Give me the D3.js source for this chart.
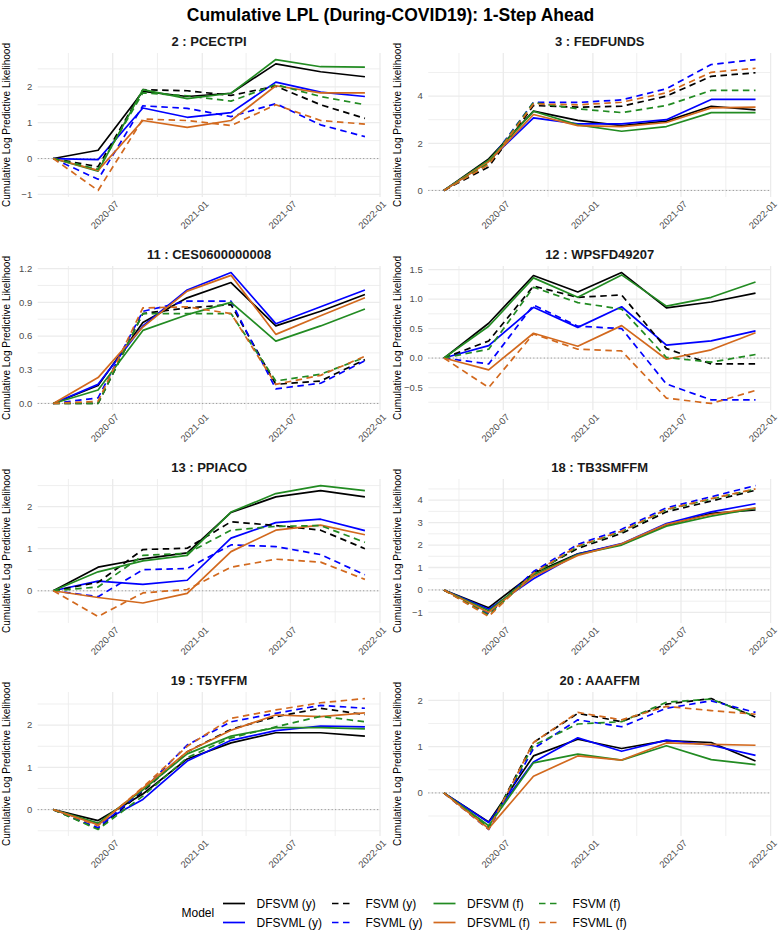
<!DOCTYPE html>
<html>
<head>
<meta charset="utf-8">
<script src="https://cdn.jsdelivr.net/npm/d3@7"></script>
<style>
  html, body { margin: 0; padding: 0; background: #ffffff; }
  svg { display: block; font-family: "Liberation Sans", Arial, Helvetica, sans-serif; }
</style>
</head>
<body>
<svg id="chart" width="781" height="935"></svg>
<script>
// ---------------- DATA ----------------
const chartTitle = "Cumulative LPL (During-COVID19): 1-Step Ahead";
const yAxisTitle = "Cumulative Log Predictive Likelihood";
const legendTitle = "Model";
const dates = ["2020-03-01","2020-06-01","2020-09-01","2020-12-01","2021-03-01","2021-06-01","2021-09-01","2021-12-01"];
const xTickLabels = ["2020-07","2021-01","2021-07","2022-01"];
const xMinorTicks = ["2020-04","2020-10","2021-04","2021-10"];
const models = ["DFSVM (y)","DFSVML (y)","FSVM (y)","FSVML (y)","DFSVM (f)","DFSVML (f)","FSVM (f)","FSVML (f)"];
const panelTitles = ["2 : PCECTPI","3 : FEDFUNDS","11 : CES0600000008","12 : WPSFD49207","13 : PPIACO","18 : TB3SMFFM","19 : T5YFFM","20 : AAAFFM"];

// series order in each panel follows `models`
const pcectpi = [
  [0, 0.23, 1.87, 1.73, 1.82, 2.64, 2.42, 2.28],
  [0, -0.03, 1.41, 1.15, 1.28, 2.13, 1.85, 1.73],
  [0, -0.23, 1.92, 1.89, 1.76, 2.02, 1.50, 1.12],
  [0, -0.58, 1.47, 1.40, 1.17, 1.53, 0.94, 0.61],
  [0, -0.35, 1.92, 1.67, 1.82, 2.76, 2.56, 2.55],
  [0, -0.33, 1.06, 0.87, 1.06, 2.03, 1.83, 1.83],
  [0, -0.30, 1.83, 1.75, 1.60, 2.06, 1.73, 1.50],
  [0, -0.89, 1.10, 1.06, 0.92, 1.50, 1.06, 0.96]
];
const fedfunds = [
  [0, 1.34, 3.36, 2.97, 2.75, 2.94, 3.57, 3.42],
  [0, 1.25, 3.08, 2.82, 2.82, 3.00, 3.86, 3.86],
  [0, 1.00, 3.60, 3.53, 3.57, 4.00, 4.84, 4.99],
  [0, 1.20, 3.73, 3.73, 3.84, 4.31, 5.34, 5.55],
  [0, 1.28, 3.36, 2.78, 2.51, 2.71, 3.30, 3.30],
  [0, 1.22, 3.22, 2.75, 2.71, 2.88, 3.50, 3.53],
  [0, 1.15, 3.73, 3.46, 3.30, 3.60, 4.24, 4.24],
  [0, 1.10, 3.67, 3.63, 3.74, 4.14, 5.01, 5.18]
];
const ces = [
  [0, 0.16, 0.72, 0.94, 1.076, 0.69, 0.82, 0.97],
  [0, 0.17, 0.69, 1.01, 1.165, 0.71, 0.86, 1.01],
  [0, 0.00, 0.80, 0.85, 0.88, 0.17, 0.20, 0.39],
  [0, 0.05, 0.82, 0.91, 0.91, 0.13, 0.18, 0.38],
  [0, 0.12, 0.65, 0.79, 0.90, 0.555, 0.69, 0.84],
  [0, 0.23, 0.68, 1.00, 1.14, 0.615, 0.78, 0.94],
  [0, 0.00, 0.80, 0.80, 0.80, 0.20, 0.26, 0.41],
  [0, 0.02, 0.85, 0.86, 0.80, 0.17, 0.25, 0.42]
];
const wpsfd = [
  [0, 0.59, 1.40, 1.12, 1.45, 0.85, 0.95, 1.10],
  [0, 0.21, 0.86, 0.52, 0.87, 0.22, 0.29, 0.46],
  [0, 0.29, 1.22, 1.03, 1.07, 0.16, -0.10, -0.10],
  [0, -0.10, 0.90, 0.54, 0.50, -0.44, -0.71, -0.71],
  [0, 0.54, 1.36, 1.03, 1.41, 0.88, 1.03, 1.29],
  [0, -0.20, 0.42, 0.20, 0.55, -0.02, 0.14, 0.43],
  [0, 0.15, 1.20, 0.94, 0.83, 0.01, -0.07, 0.06],
  [0, -0.50, 0.41, 0.15, 0.12, -0.68, -0.77, -0.55]
];
const ppiaco = [
  [0, 0.56, 0.76, 0.90, 1.86, 2.23, 2.38, 2.23],
  [0, 0.23, 0.15, 0.25, 1.25, 1.62, 1.70, 1.43],
  [0, 0.20, 0.98, 1.01, 1.64, 1.55, 1.44, 1.00],
  [0, -0.14, 0.50, 0.53, 1.09, 1.05, 0.86, 0.38],
  [0, 0.45, 0.71, 0.84, 1.87, 2.31, 2.50, 2.38],
  [0, -0.16, -0.29, -0.06, 0.93, 1.44, 1.56, 1.33],
  [0, 0.09, 0.84, 0.89, 1.44, 1.53, 1.55, 1.15],
  [0, -0.61, -0.05, 0.03, 0.56, 0.75, 0.68, 0.27]
];
const tb3smffm = [
  [0, -0.79, 0.74, 1.61, 2.03, 2.89, 3.41, 3.56],
  [0, -0.86, 0.50, 1.60, 2.06, 2.96, 3.48, 3.84],
  [0, -1.05, 0.77, 1.85, 2.52, 3.48, 3.96, 4.44],
  [0, -1.07, 0.82, 2.03, 2.70, 3.66, 4.15, 4.65],
  [0, -0.93, 0.67, 1.58, 2.00, 2.84, 3.29, 3.63],
  [0, -1.00, 0.60, 1.54, 2.06, 2.92, 3.36, 3.66],
  [0, -1.12, 0.70, 1.93, 2.60, 3.57, 4.05, 4.49],
  [0, -1.18, 0.74, 1.96, 2.62, 3.59, 4.07, 4.50]
];
const t5yffm = [
  [0, -0.26, 0.37, 1.20, 1.58, 1.82, 1.82, 1.74],
  [0, -0.34, 0.24, 1.15, 1.64, 1.87, 1.98, 1.96],
  [0, -0.45, 0.43, 1.37, 1.90, 2.20, 2.40, 2.25],
  [0, -0.43, 0.46, 1.53, 2.08, 2.28, 2.47, 2.40],
  [0, -0.32, 0.47, 1.32, 1.74, 1.94, 1.94, 1.91],
  [0, -0.36, 0.51, 1.37, 1.88, 2.24, 2.20, 2.29],
  [0, -0.47, 0.32, 1.23, 1.70, 1.96, 2.21, 2.08],
  [0, -0.38, 0.53, 1.50, 2.16, 2.36, 2.53, 2.63]
];
const aaaffm = [
  [0, -0.63, 0.80, 1.16, 0.96, 1.13, 1.09, 0.69],
  [0, -0.64, 0.67, 1.19, 0.90, 1.14, 1.03, 0.81],
  [0, -0.75, 1.09, 1.72, 1.54, 1.92, 2.04, 1.64],
  [0, -0.79, 0.96, 1.58, 1.43, 1.83, 1.99, 1.74],
  [0, -0.71, 0.65, 0.84, 0.71, 1.02, 0.72, 0.61],
  [0, -0.77, 0.36, 0.80, 0.71, 1.08, 1.05, 1.03],
  [0, -0.75, 1.03, 1.49, 1.54, 1.96, 2.03, 1.65],
  [0, -0.79, 1.09, 1.74, 1.58, 1.87, 1.78, 1.70]
];
const panelData = [pcectpi, fedfunds, ces, wpsfd, ppiaco, tb3smffm, t5yffm, aaaffm];

const yTicks = [
  [-1, 0, 1, 2],
  [0, 2, 4],
  [0.0, 0.3, 0.6, 0.9, 1.2],
  [-0.5, 0.0, 0.5, 1.0, 1.5],
  [0, 1, 2],
  [-1, 0, 1, 2, 3, 4],
  [0, 1, 2],
  [0, 1, 2]
];
const yTickDecimals = [0, 0, 1, 1, 0, 0, 0, 0];

// ---------------- STYLE ----------------
const modelColors = ["#000000","#0000FF","#000000","#0000FF","#228B22","#D2691E","#228B22","#D2691E"];
const modelDashed = [false, false, true, true, false, false, true, true];
const dashPattern = "6.5,4.5";
const lineW = 1.7;

const W = 781, H = 935;
const panelW = 342.8, panelH = 144;
const panelLeft0 = 37.7, colStep = 390.6;
const panelTop0 = 53, rowStep = 213;
const gridColor = "#EBEBEB";
const textGrey = "#4D4D4D";

const svg = d3.select("#chart");
svg.append("rect").attr("width", W).attr("height", H).attr("fill", "#fff");

svg.append("text")
  .attr("x", W / 2).attr("y", 20.5)
  .attr("text-anchor", "middle")
  .attr("font-size", "17.5px").attr("font-weight", "bold")
  .attr("fill", "#000")
  .text(chartTitle);

const parse = d3.utcParse("%Y-%m-%d");
const parseM = d3.utcParse("%Y-%m");
const dateObjs = dates.map(parse);
const dMin = dateObjs[0], dMax = dateObjs[dateObjs.length - 1];
const span = dMax - dMin;
const xDomain = [new Date(+dMin - 0.05 * span), new Date(+dMax + 0.05 * span)];

panelData.forEach((series, i) => {
  const col = i % 2, row = Math.floor(i / 2);
  const left = panelLeft0 + col * colStep;
  const top = panelTop0 + row * rowStep;
  const g = svg.append("g").attr("transform", `translate(${left},${top})`);

  const x = d3.scaleUtc().domain(xDomain).range([0, panelW]);
  const all = series.flat().concat([0]);
  const ymin = d3.min(all), ymax = d3.max(all);
  const pad = 0.05 * (ymax - ymin);
  const y = d3.scaleLinear().domain([ymin - pad, ymax + pad]).range([panelH, 0]);

  // minor grid (y): midpoints between major ticks within range
  const yt = yTicks[i];
  const step = yt[1] - yt[0];
  const yMinor = [];
  for (let v = yt[0] - step / 2; v <= yt[yt.length - 1] + step / 2 + 1e-9; v += step) {
    if (v >= y.domain()[0] && v <= y.domain()[1]) yMinor.push(v);
  }
  g.selectAll(".yminor").data(yMinor).enter().append("line")
    .attr("x1", 0).attr("x2", panelW)
    .attr("y1", d => y(d)).attr("y2", d => y(d))
    .attr("stroke", gridColor).attr("stroke-width", 0.8);
  g.selectAll(".xminor").data(xMinorTicks.map(parseM)).enter().append("line")
    .attr("x1", d => x(d)).attr("x2", d => x(d))
    .attr("y1", 0).attr("y2", panelH)
    .attr("stroke", gridColor).attr("stroke-width", 0.8);
  // major grid
  g.selectAll(".ymajor").data(yt).enter().append("line")
    .attr("x1", 0).attr("x2", panelW)
    .attr("y1", d => y(d)).attr("y2", d => y(d))
    .attr("stroke", gridColor).attr("stroke-width", 1.3);
  const xMaj = xTickLabels.map(parseM);
  g.selectAll(".xmajor").data(xMaj).enter().append("line")
    .attr("x1", d => x(d)).attr("x2", d => x(d))
    .attr("y1", 0).attr("y2", panelH)
    .attr("stroke", gridColor).attr("stroke-width", 1.3);

  // zero reference line
  g.append("line")
    .attr("x1", 0).attr("x2", panelW)
    .attr("y1", y(0)).attr("y2", y(0))
    .attr("stroke", "#8C8C8C").attr("stroke-width", 1)
    .attr("stroke-dasharray", "1,2.5");

  // y tick labels
  const fmt = d3.format(`.${yTickDecimals[i]}f`);
  g.selectAll(".ytl").data(yt).enter().append("text")
    .attr("x", -5.5).attr("y", d => y(d))
    .attr("dy", "0.35em")
    .attr("text-anchor", "end")
    .attr("font-size", "9.5px").attr("fill", textGrey)
    .text(d => fmt(d).replace("-", "-"));

  // x tick labels rotated
  g.selectAll(".xtl").data(xMaj).enter().append("text")
    .attr("transform", d => `translate(${x(d) + 2},${panelH + 3}) rotate(-45)`)
    .attr("text-anchor", "end")
    .attr("dy", "0.72em")
    .attr("font-size", "9.5px").attr("fill", textGrey)
    .text((d, k) => xTickLabels[k]);

  // panel title
  g.append("text")
    .attr("x", panelW / 2).attr("y", -7.5)
    .attr("text-anchor", "middle")
    .attr("font-size", "13px").attr("font-weight", "bold")
    .attr("fill", "#1A1A1A")
    .text(panelTitles[i]);

  // y axis title
  g.append("text")
    .attr("transform", `translate(${-27.5},${panelH / 2}) rotate(-90)`)
    .attr("text-anchor", "middle")
    .attr("font-size", "10px").attr("fill", "#000")
    .text(yAxisTitle);

  // lines
  const line = d3.line().x((d, k) => x(dateObjs[k])).y(d => y(d));
  series.forEach((vals, m) => {
    g.append("path")
      .attr("d", line(vals))
      .attr("fill", "none")
      .attr("stroke", modelColors[m])
      .attr("stroke-width", lineW)
      .attr("stroke-linejoin", "round")
      .attr("stroke-dasharray", modelDashed[m] ? dashPattern : null);
  });
});

// ---------------- LEGEND ----------------
const legendG = svg.append("g");
legendG.append("text")
  .attr("x", 181.5).attr("y", 913).attr("dy", "0.35em")
  .attr("font-size", "12px").attr("fill", "#000")
  .text(legendTitle);
const colX = [223, 332, 433.5, 539];
const rowY = [903.5, 922.5];
models.forEach((m, k) => {
  const c = Math.floor(k / 2), r = k % 2;
  legendG.append("line")
    .attr("x1", colX[c]).attr("x2", colX[c] + 22)
    .attr("y1", rowY[r]).attr("y2", rowY[r])
    .attr("stroke", modelColors[k]).attr("stroke-width", lineW)
    .attr("stroke-dasharray", modelDashed[k] ? dashPattern : null);
  legendG.append("text")
    .attr("x", colX[c] + 33.5).attr("y", rowY[r]).attr("dy", "0.35em")
    .attr("font-size", "12px").attr("fill", "#000")
    .text(m);
});
</script>
</body>
</html>
